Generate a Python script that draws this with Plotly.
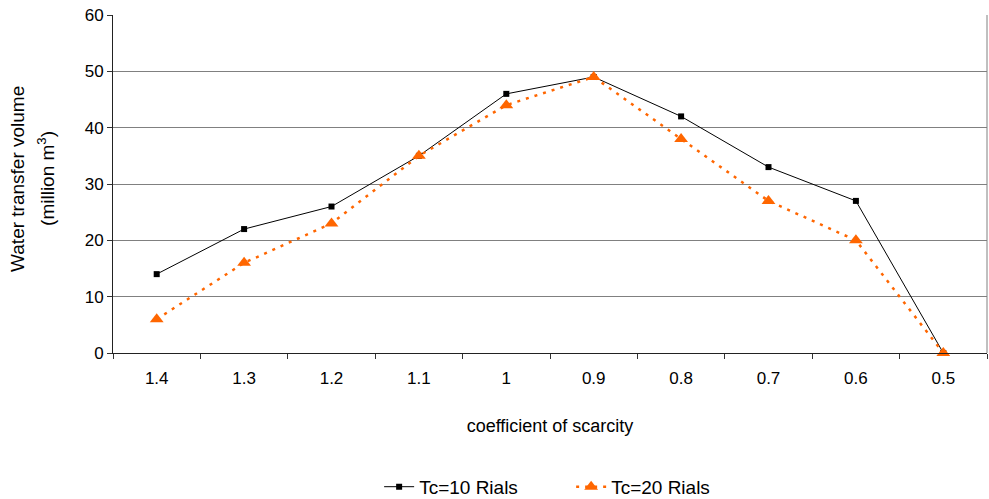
import plotly.graph_objects as go

categories = ["1.4", "1.3", "1.2", "1.1", "1", "0.9", "0.8", "0.7", "0.6", "0.5"]
tc10 = [14, 22, 26, 35, 46, 49, 42, 33, 27, 0]
tc20 = [6, 16, 23, 35, 44, 49, 38, 27, 20, 0]
y_ticks = [0, 10, 20, 30, 40, 50, 60]

FONT = "Liberation Sans, Arial, sans-serif"

fig = go.Figure()
fig.add_trace(go.Scatter(
    x=categories, y=tc10, name="Tc=10 Rials", mode="lines+markers",
    line=dict(color="black", width=1),
    marker=dict(symbol="square", size=6, color="black"),
    cliponaxis=False,
))
fig.add_trace(go.Scatter(
    x=categories, y=tc20, name="Tc=20 Rials", mode="lines+markers",
    line=dict(color="#FF6600", width=2.5, dash="3px,6px"),
    marker=dict(symbol="triangle-up", size=12, color="#FF6600"),
    cliponaxis=False,
))

fig.update_layout(
    width=989, height=499,
    margin=dict(l=113, r=2, t=15, b=146, autoexpand=False),
    paper_bgcolor="white", plot_bgcolor="white",
    font=dict(family=FONT, size=17, color="black"),
    showlegend=True,
    legend=dict(orientation="h", x=0.3045, xanchor="left", y=-0.396, yanchor="middle",
                font=dict(size=19), entrywidth=147, entrywidthmode="pixels"),
)
fig.update_xaxes(
    type="category", range=[-0.5, len(categories) - 0.5],
    tickson="boundaries", ticks="outside", ticklen=5,
    tickcolor="#333333", showline=True, linecolor="#222222", linewidth=1,
    mirror=False, showgrid=False, ticklabelstandoff=10, automargin=False,
    title=dict(text="coefficient of scarcity", standoff=31, font=dict(size=18)),
    tickfont=dict(size=17),
)
fig.update_yaxes(
    range=[0, 60], tickvals=y_ticks, ticks="outside", ticklen=5,
    tickcolor="#333333", showline=True, linecolor="#222222", linewidth=1,
    showgrid=True, gridcolor="#808080", gridwidth=1, zeroline=False,
    ticklabelstandoff=0, automargin=False,
    tickfont=dict(size=17),
)
# y-axis title as two rotated lines
fig.add_annotation(text="Water transfer volume", textangle=-90, showarrow=False,
                   xref="paper", yref="paper", x=0, y=0.515, xanchor="center",
                   yanchor="middle", xshift=-95, font=dict(size=19))
fig.add_annotation(text="(million m<sup>3</sup>)", textangle=-90, showarrow=False,
                   xref="paper", yref="paper", x=0, y=0.515, xanchor="center",
                   yanchor="middle", xshift=-67, font=dict(size=19))
# right border of plot area
fig.add_shape(type="line", xref="paper", yref="paper", x0=1, x1=1, y0=0, y1=1,
              line=dict(color="#808080", width=1))

fig.write_html("out.html")
